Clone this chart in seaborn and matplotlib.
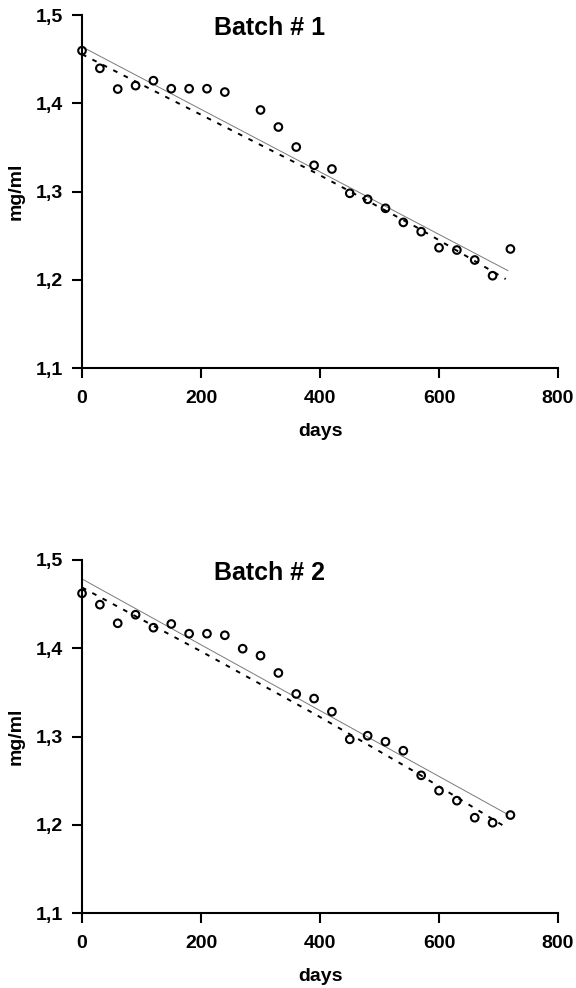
import numpy as np
import pandas as pd
import matplotlib
matplotlib.use('Agg')
import matplotlib.pyplot as plt
import seaborn as sns
from matplotlib.ticker import FuncFormatter

# measured values, batch 1
days1 = [0, 30, 60, 90, 120, 150, 180, 210, 240, 300, 330, 360,
         390, 420, 450, 480, 510, 540, 570, 600, 630, 660, 690, 720]
conc1 = [1.4596, 1.4396, 1.4161, 1.4200, 1.4256, 1.4165, 1.4165, 1.4165,
         1.4127, 1.3924, 1.3731, 1.3504, 1.3297, 1.3255, 1.2980, 1.2912,
         1.2810, 1.2650, 1.2545, 1.2363, 1.2337, 1.2224, 1.2046, 1.2349]

# measured values, batch 2
days2 = [0, 30, 60, 90, 120, 150, 180, 210, 240, 270, 300, 330,
         360, 390, 420, 450, 480, 510, 540, 570, 600, 630, 660, 690, 720]
conc2 = [1.4622, 1.4494, 1.4283, 1.4380, 1.4233, 1.4275, 1.4165, 1.4165,
         1.4147, 1.3995, 1.3916, 1.3720, 1.3482, 1.3430, 1.3281, 1.2968,
         1.3009, 1.2941, 1.2839, 1.2560, 1.2386, 1.2273, 1.2080, 1.2023, 1.2110]

# fitted lines
fit1_days = [0, 716]
fit1_vals = [1.4640, 1.2103]
curve1_days = [0, 200, 394, 568, 712]
curve1_vals = [1.4555, 1.3870, 1.3206, 1.2574, 1.2008]

fit2_days = [0, 716]
fit2_vals = [1.4785, 1.2115]
curve2_days = [0, 200, 394, 562, 710]
curve2_vals = [1.4689, 1.3965, 1.3244, 1.2590, 1.1982]

titles = ['Batch # 1', 'Batch # 2']

sns.set_style('ticks')
plt.rcParams['font.family'] = ['Liberation Sans', 'DejaVu Sans']
plt.rcParams['font.weight'] = 'bold'
for key in ['text.color', 'axes.labelcolor', 'xtick.color', 'ytick.color']:
    plt.rcParams[key] = 'black'

fig = plt.figure(figsize=(5.76, 9.88), dpi=100)
rects = [[0.1424, 0.6275, 0.8264, 0.3573], [0.1424, 0.0759, 0.8264, 0.3573]]

panels = [(days1, conc1, fit1_days, fit1_vals, curve1_days, curve1_vals),
          (days2, conc2, fit2_days, fit2_vals, curve2_days, curve2_vals)]

for rect, title, (d, c, fd, fv, cd, cv) in zip(rects, titles, panels):
    ax = fig.add_axes(rect)
    sns.lineplot(x=fd, y=fv, ax=ax, color='#7a7a7a', lw=0.7)
    sns.lineplot(x=cd, y=cv, ax=ax, color='black', lw=1.4,
                 linestyle=(0, (2.4, 3.6)))
    sns.scatterplot(x=d, y=c, ax=ax, marker='o', s=30, facecolor='none',
                    edgecolor='black', linewidth=1.5, clip_on=False, zorder=3)
    ax.set_xlim(0, 800)
    ax.set_ylim(1.1, 1.5)
    ax.set_xticks([0, 200, 400, 600, 800])
    ax.set_yticks([1.1, 1.2, 1.3, 1.4, 1.5])
    ax.yaxis.set_major_formatter(FuncFormatter(lambda v, p: f'{v:.1f}'.replace('.', ',')))
    ax.tick_params(axis='both', direction='out', length=7, width=1.5,
                   labelsize=14, color='black', labelcolor='black')
    ax.tick_params(axis='x', pad=9)
    ax.tick_params(axis='y', pad=7)
    for lab in ax.get_xticklabels() + ax.get_yticklabels():
        lab.set_fontweight('bold')
    for side in ['top', 'right']:
        ax.spines[side].set_visible(False)
    for side in ['left', 'bottom']:
        ax.spines[side].set_linewidth(1.5)
        ax.spines[side].set_color('black')
    ax.set_xlabel('days', fontsize=14, fontweight='bold', labelpad=11)
    ax.set_ylabel('mg/ml', fontsize=14, fontweight='bold', labelpad=8)
    ax.text(0.393, 0.963, title, transform=ax.transAxes, ha='center',
            va='center', fontsize=18, fontweight='bold', color='black')

fig.savefig('out.png', dpi=100)
